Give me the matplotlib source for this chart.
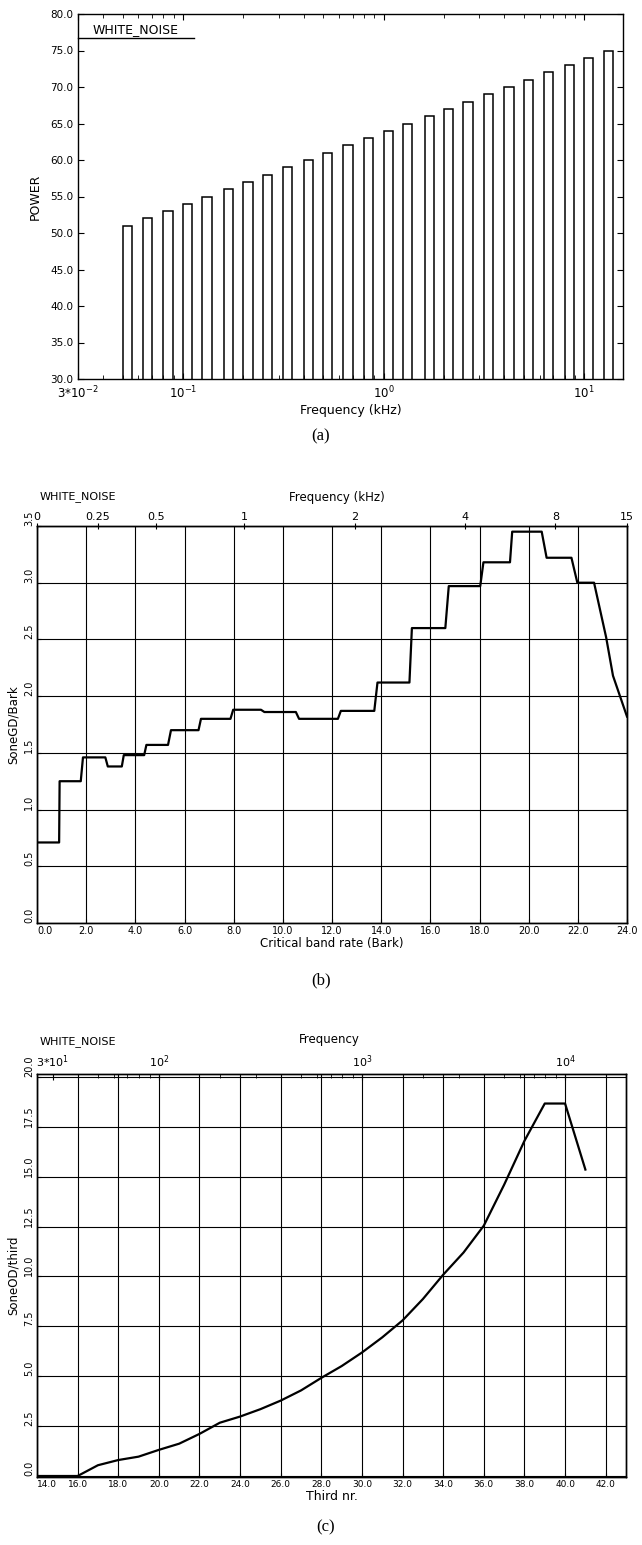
"""Three-panel loudness analysis of white noise: 1/3-octave power, specific
loudness per Bark, and loudness per third-octave band."""

import numpy as np
import matplotlib

matplotlib.use("Agg")
import matplotlib.pyplot as plt
from matplotlib.ticker import LogLocator, NullFormatter

W, H = 642, 1545

# (a) third-octave band power
band_khz = [0.05, 0.063, 0.08, 0.1, 0.125, 0.16, 0.2, 0.25, 0.315, 0.4, 0.5,
            0.63, 0.8, 1.0, 1.25, 1.6, 2.0, 2.5, 3.15, 4.0, 5.0, 6.3, 8.0,
            10.0, 12.5]
band_power = [51, 52, 53, 54, 55, 56, 57, 58, 59, 60, 61, 62, 63, 64, 65, 66,
              67, 68, 69, 70, 71, 72, 73, 74, 75]
a_xticks = [0.03, 0.1, 1.0, 10.0]
a_xlabels = [r"3*10$^{-2}$", r"10$^{-1}$", r"10$^{0}$", r"10$^{1}$"]

# (b) specific loudness vs critical band rate
bark = [0.07, 0.9, 0.92, 1.78, 1.87, 2.78, 2.88, 3.45, 3.53, 4.36, 4.45, 5.33,
        5.45, 6.57, 6.67, 7.87, 7.98, 9.11, 9.25, 10.53, 10.66, 12.24, 12.36,
        13.72, 13.85, 15.15, 15.25, 16.61, 16.75, 18.03, 18.16, 19.24, 19.33,
        20.53, 20.73, 21.74, 21.98, 22.66, 23.15, 23.43, 24.0]
sone_bark = [0.71, 0.71, 1.25, 1.25, 1.46, 1.46, 1.38, 1.38, 1.48, 1.48, 1.57,
             1.57, 1.70, 1.70, 1.80, 1.80, 1.88, 1.88, 1.86, 1.86, 1.80, 1.80,
             1.87, 1.87, 2.12, 2.12, 2.60, 2.60, 2.97, 2.97, 3.18, 3.18, 3.45,
             3.45, 3.22, 3.22, 3.00, 3.00, 2.52, 2.18, 1.82]
b_top_labels = ["0", "0.25", "0.5", "1", "2", "4", "8", "15"]
b_top_bark = [0.0, 2.48, 4.84, 8.42, 12.94, 17.43, 21.09, 24.0]

# (c) loudness per third-octave band
third_nr = [14, 15, 16, 17, 18, 19, 20, 21, 22, 23, 24, 25, 26, 27, 28, 29, 30,
            31, 32, 33, 34, 35, 36, 37, 38, 39, 40, 41]
sone_third = [0.0, 0.0, 0.0, 0.54, 0.80, 0.97, 1.31, 1.62, 2.11, 2.67, 2.98,
              3.35, 3.78, 4.29, 4.92, 5.51, 6.19, 6.95, 7.80, 8.87, 10.09,
              11.2, 12.55, 14.6, 16.8, 18.67, 18.67, 15.36]
c_top_ticks = [30, 100, 1000, 10000]
c_top_labels = [r"3*10$^{1}$", r"10$^{2}$", r"10$^{3}$", r"10$^{4}$"]

plt.rcParams["font.family"] = ["DejaVu Sans"]
plt.rcParams["axes.linewidth"] = 1.0

fig = plt.figure(figsize=(W / 100, H / 100), dpi=100)


def box(left, top, right, bottom):
    """Pixel box -> figure-fraction axes."""
    return fig.add_axes([left / W, 1 - bottom / H, (right - left) / W, (bottom - top) / H])


def ftext(x, y, s, **kw):
    fig.text(x / W, 1 - y / H, s, ha=kw.pop("ha", "center"), va=kw.pop("va", "center"), **kw)


def rotated_yticks(axis, values):
    axis.set_yticks(values)
    axis.set_yticklabels([f"{v:.1f}" for v in values], fontsize=7, rotation=90,
                         va="bottom")


# ---- (a) ----
ax = box(78, 14, 623, 379)
ax.set_xscale("log")
freqs = np.array(band_khz)
ax.bar(freqs, band_power, width=freqs * 0.112, align="edge",
       color="white", edgecolor="black", linewidth=1.1)
ax.set_xlim(0.0311, 15.6)
ax.set_ylim(30, 80)
ax.set_yticks(np.arange(30, 80.1, 5))
ax.set_yticklabels([f"{v:.1f}" for v in np.arange(30, 80.1, 5)], fontsize=7.5)
ax.set_xticks(a_xticks)
ax.set_xticklabels(a_xlabels, fontsize=8.5)
ax.xaxis.set_minor_locator(LogLocator(subs=np.arange(2, 10)))
ax.xaxis.set_minor_formatter(NullFormatter())
ax.tick_params(which="both", direction="in", top=True, right=True, length=4)
ax.tick_params(which="minor", length=3)
ax.tick_params(axis="x", pad=4)
ax.plot([0, 0.212], [0.933, 0.933], color="black", lw=1.0, transform=ax.transAxes,
        clip_on=False)
ax.text(0.027, 0.94, "WHITE_NOISE", fontsize=9, transform=ax.transAxes, va="bottom")
ax.set_ylabel("POWER", fontsize=9, labelpad=6)
ax.set_xlabel("Frequency (kHz)", fontsize=9, labelpad=2)
ftext(321, 436, "(a)", fontsize=12, family="Liberation Serif")

# ---- (b) ----
bx = box(37, 526, 627, 923)
bx.plot(bark, sone_bark, color="black", lw=1.6)
bx.set_xlim(0, 24)
bx.set_ylim(0, 3.5)
bx.set_xticks(np.arange(0, 24.1, 2))
bx.set_xticklabels([f"{v:.1f}" for v in np.arange(0, 24.1, 2)], fontsize=7)
bx.get_xticklabels()[0].set_ha("left")
rotated_yticks(bx, np.arange(0, 3.51, 0.5))
bx.grid(True, color="black", lw=0.8)
bx.tick_params(direction="in", length=3, pad=2)
bx.set_xlabel("Critical band rate (Bark)", fontsize=8.5, labelpad=1)
bx.set_ylabel("SoneGD/Bark", fontsize=8.5, labelpad=3)
bt = bx.twiny()
bt.set_xlim(0, 24)
bt.set_xticks(b_top_bark)
bt.set_xticklabels(b_top_labels, fontsize=8)
bt.tick_params(direction="inout", length=4, pad=1)
ftext(40, 497, "WHITE_NOISE", fontsize=8, ha="left")
ftext(337, 497, "Frequency (kHz)", fontsize=8.5)
ftext(321, 980, "(b)", fontsize=12, family="Liberation Serif")

# ---- (c) ----
cx = box(37, 1074, 626, 1477)
cx.plot(third_nr, sone_third, color="black", lw=1.6)
cx.set_xlim(14, 43)
cx.set_ylim(-0.05, 20.15)
cx.set_xticks(np.arange(14, 42.1, 2))
cx.set_xticklabels([f"{v:.1f}" for v in np.arange(14, 42.1, 2)], fontsize=6.5)
cx.get_xticklabels()[0].set_ha("left")
rotated_yticks(cx, np.arange(0, 20.1, 2.5))
cx.grid(True, color="black", lw=0.8)
cx.tick_params(direction="in", length=3, pad=2)
cx.set_xlabel("Third nr.", fontsize=9, labelpad=1)
cx.set_ylabel("SoneOD/third", fontsize=8.5, labelpad=3)
ct = cx.twiny()
ct.set_xscale("log")
ct.set_xlim(10 ** 1.4, 10 ** 4.3)
ct.set_xticks(c_top_ticks)
ct.set_xticklabels(c_top_labels, fontsize=8)
ct.xaxis.set_minor_locator(LogLocator(subs=np.arange(2, 10)))
ct.xaxis.set_minor_formatter(NullFormatter())
ct.tick_params(which="both", direction="in", length=4, pad=3)
ct.tick_params(which="minor", length=3)
ftext(40, 1042, "WHITE_NOISE", fontsize=8, ha="left")
ftext(329, 1039, "Frequency", fontsize=8.5)
ftext(326, 1527, "(c)", fontsize=12, family="Liberation Serif")

fig.savefig("out.png", dpi=100)
